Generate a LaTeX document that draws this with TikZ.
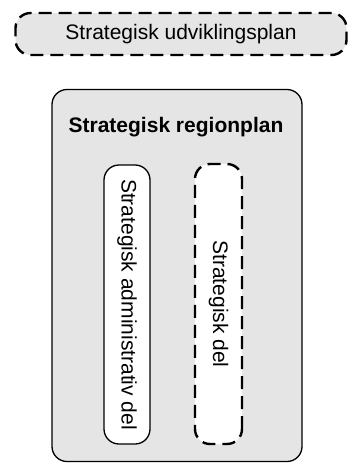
\documentclass[tikz,border=0pt]{standalone}
\usepackage{fontspec}
\setmainfont{Liberation Sans}
\begin{document}
\begin{tikzpicture}[x=1pt,y=-1pt,
  planbox/.style={draw, rounded corners=15pt, inner sep=0pt, align=center,
    font=\fontsize{21}{25}\selectfont},
  dashedline/.style={line width=2.4pt, dash pattern=on 13pt off 7pt},
  solidline/.style={line width=1.3pt},
  greyfill/.style={fill=black!10},
  whitefill/.style={fill=white}]
  \useasboundingbox (0,0) rectangle (350,463);
  % overall development plan
  \node[planbox, greyfill, dashedline, minimum width=331pt, minimum height=42pt]
    (udv) at (181,34) {Strategisk udviklingsplan};
  % regional plan frame
  \node[planbox, greyfill, solidline, minimum width=250pt, minimum height=372pt]
    (region) at (177,275.5) {};
  \node[font=\fontsize{21}{25}\selectfont\bfseries] (title) at (176,127) {Strategisk regionplan};
  % the two parts of the regional plan
  \node[planbox, whitefill, solidline, rotate=-90, minimum width=279pt, minimum height=46pt]
    (admin) at (127,304.5) {Strategisk administrativ del};
  \node[planbox, whitefill, dashedline, rotate=-90, minimum width=280pt, minimum height=47pt]
    (strat) at (218.5,304) {Strategisk del};
\end{tikzpicture}
\end{document}
